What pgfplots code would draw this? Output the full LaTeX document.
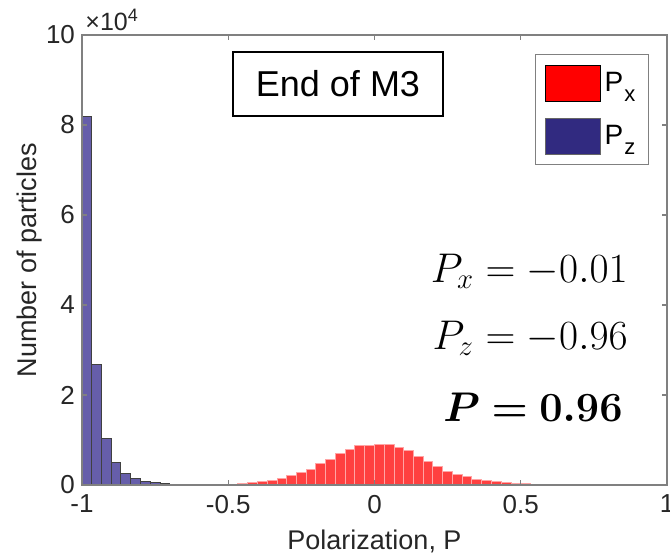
\documentclass[border=0pt]{standalone}
\usepackage{fontspec}
\setmainfont{Liberation Sans}
\usepackage{amsmath,bm}
\usepackage{pgfplots}
\pgfplotsset{compat=1.18}
\definecolor{barblue}{RGB}{102,94,170}
\definecolor{legblue}{RGB}{49,42,128}
\definecolor{barred}{RGB}{255,64,64}
\definecolor{rededge}{RGB}{255,165,165}
\definecolor{axgray}{RGB}{128,128,128}
\definecolor{txt}{RGB}{38,38,38}
\begin{document}
\begin{tikzpicture}
\begin{axis}[
  name=ax, at={(0,0)}, anchor=south west,
  scale only axis, width=292.5pt, height=225pt,
  xmin=-1, xmax=1, ymin=0, ymax=10,
  xtick={-1,-0.5,0,0.5,1}, xticklabels={-1,-0.5,0,0.5,1},
  ytick={0,2,4,6,8,10}, yticklabels={0,2,4,6,8,10},
  tick label style={font=\fontsize{13}{13}\selectfont, text=txt},
  xticklabel style={yshift=-1.5pt},
  axis line style={axgray, line width=0.7pt}, tick style={axgray, line width=0.6pt},
  tick align=inside, major tick length=2.5pt,
  xtick pos=both, ytick pos=both,
  xlabel={Polarization, P}, ylabel={Number of particles},
  label style={font=\fontsize{13.5}{13.5}\selectfont, text=txt},
  xlabel style={at={(axis description cs:0.5,-0.125)}, anchor=center},
  ylabel style={at={(axis description cs:-0.0889,0.5)}, anchor=center},
  axis on top,
  legend style={at={(axis description cs:1,1)}, xshift=-9pt, yshift=-9.5pt, anchor=north east,
    draw=axgray, line width=0.6pt, fill=white, inner xsep=4.5pt, inner ysep=5pt, row sep=8pt,
    font=\fontsize{14}{14}\selectfont, text=black},
  legend cell align=left,
  legend image code/.code={\draw[#1] (0pt,-9pt) rectangle (27.5pt,9pt);},
]
\addplot[ybar interval, fill=barblue, draw=black!75, line width=0.5pt, forget plot] coordinates {
(-1,8.19) (-0.9667,2.68) (-0.9333,1.03) (-0.9,0.50) (-0.8667,0.26) (-0.8333,0.14)
(-0.8,0.08) (-0.7667,0.05) (-0.7333,0.03) (-0.7,0.02) (-0.6667,0.01) (-0.6333,0.006)
(-0.6,0.003) (-0.5667,0.002) (-0.5333,0.001) (-0.5,0)
};
\addplot[ybar interval, fill=barred, draw=rededge, line width=0.5pt, forget plot] coordinates {
(-0.5667,0.004) (-0.5333,0.01) (-0.5,0.02) (-0.4667,0.04) (-0.4333,0.06) (-0.4,0.08)
(-0.3667,0.11) (-0.3333,0.15) (-0.3,0.21) (-0.2667,0.27) (-0.2333,0.34) (-0.2,0.47)
(-0.1667,0.56) (-0.1333,0.69) (-0.1,0.79) (-0.0667,0.87) (-0.0333,0.88) (0,0.91)
(0.0333,0.91) (0.0667,0.84) (0.1,0.76) (0.1333,0.64) (0.1667,0.52) (0.2,0.41)
(0.2333,0.31) (0.2667,0.24) (0.3,0.18) (0.3333,0.13) (0.3667,0.10) (0.4,0.08)
(0.4333,0.06) (0.4667,0.04) (0.5,0.025) (0.5333,0.012) (0.5667,0.006) (0.6,0.002) (0.6333,0)
};
\addlegendimage{fill=red, draw=none}
\addlegendentry{P\kern0.5pt\raisebox{-5pt}{\fontsize{11}{11}\selectfont x}}
\addlegendimage{fill=legblue, draw=black!60, line width=0.4pt}
\addlegendentry{P\kern0.5pt\raisebox{-5pt}{\fontsize{11}{11}\selectfont z}}
\node[draw=black, line width=1pt, minimum width=105pt, minimum height=32pt, fill=white,
  font=\fontsize{18}{18}\selectfont, text=black] at (axis description cs:0.4376,0.892) {End of M3};
\node[anchor=base east, inner sep=0, font=\fontsize{21}{25}\selectfont] at (axis description cs:0.9333,0.451) {$P_x = -0.01$};
\node[anchor=base east, inner sep=0, font=\fontsize{21}{25}\selectfont] at (axis description cs:0.9333,0.302) {$P_z = -0.96$};
\node[anchor=base east, inner sep=0, font=\fontsize{21}{25}\selectfont] at (axis description cs:0.9248,0.14) {$\bm{P = 0.96}$};
\end{axis}
\node[anchor=base west, inner sep=0, font=\fontsize{12.5}{12.5}\selectfont, text=txt] at ([xshift=1.5pt,yshift=2pt]ax.north west) {×10\raisebox{4.5pt}{\fontsize{9}{9}\selectfont 4}};
\pgfresetboundingbox
\path[use as bounding box] (-41pt,-36pt) rectangle (294pt,242.5pt);
\end{tikzpicture}
\end{document}
